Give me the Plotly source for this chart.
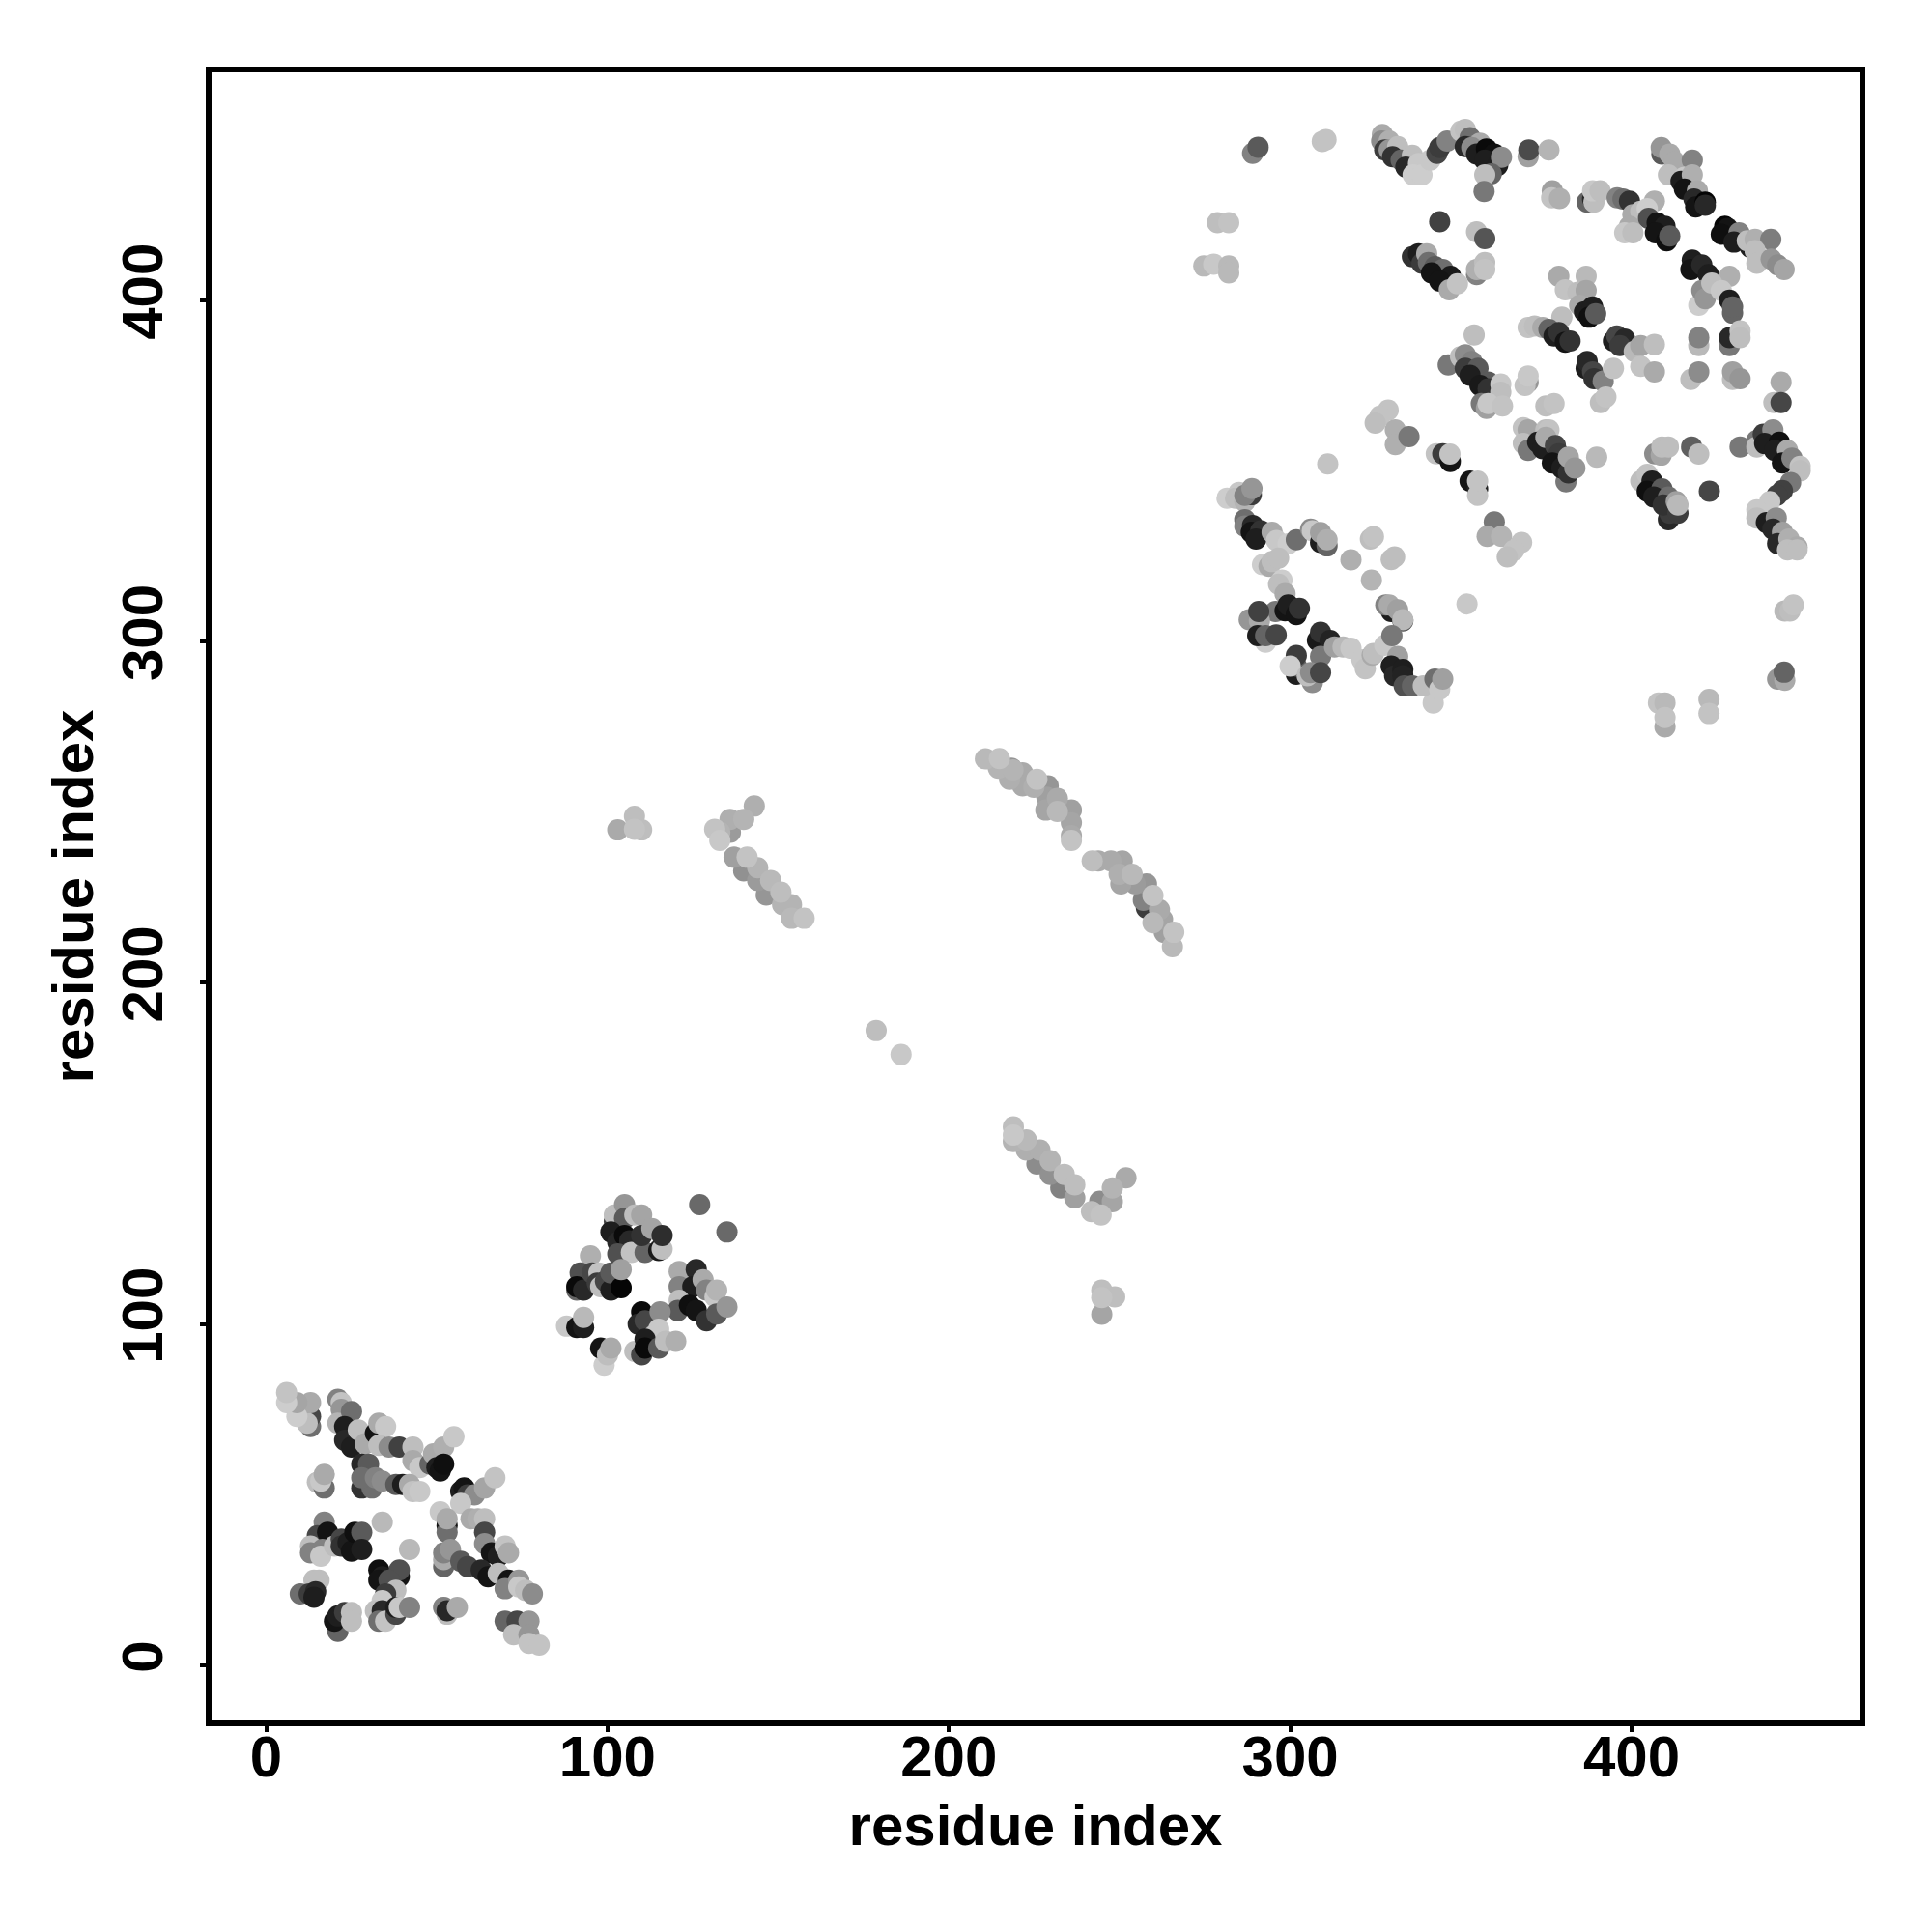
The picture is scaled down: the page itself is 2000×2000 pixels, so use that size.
import plotly.graph_objects as go

# (residue i, residue j, grey level)
domain_a = [
(13,70,110),(13,73,70),(13,77,170),(12,71,190),(9,73,205),(9,77,165),(6,77,205),(6,80,195),
(21,78,130),(22,77,195),(22,75,150),(21,71,180),(25,74.4,110),(23,70,30),(23,66,40),(25,64,30),(27,69,190),(29,65,170),
(32,68,20),(33,71,170),(35,70,200),(33,64.5,190),(36,64,140),(39,64,65),(43,64,190),(43,60,170),(45,58,200),
(28,59,40),(30,59,90),(28,52,50),(31,52,110),(28,55,110),(32,55,130),(34,54,140),(38,53,90),(40,53,30),(42,53,170),(43,51,195),(45,51,200),
(48,59,100),(49,62,170),(52,64,175),(55,67,200),(50,58,30),(51,57,20),(52,59,15),
(57,51,30),(58,52,20),(59,50,60),(61,50,140),(64,52,165),(67,55,195),(57,47.5,200),
(51,45,200),(53,41,20),(53,39,110),(53,43,170),(60,43,170),(62,43,175),(64,43,190),(64,39,70),(64,35.7,140),(66,33,20),(68,32,30),(70,35,195),(71,33,170),
(52,29,100),(52,31,170),(52,33,130),(54,34,150),(57,30.5,90),(59,29,70),(63,28,40),(65,26,20),(68,27,190),(71,25,20),(70,22.5,130),(74,25,150),(74,23,200),(76,22,190),(78,21,140),
(17,42,130),(15,38,70),(18,39,20),(13,35,190),(13,33,130),(16.5,34,130),(16,32,200),(20,35,190),(22,37,70),(22,35,50),(24,36,30),(25,33.5,20),(26,39,15),(28,39,90),(28,34,30),
(34,42,185),(42,34,185),
(33,28,15),(34,26,30),(33,25,20),(39,26,20),(39,28,80),(36,25,80),(38,22,190),(35,21,60),(34,19,200),(32,16,190),(34,16,40),(33,13,110),(35,13,195),(38,15,70),(38,17,30),(39,17,200),(42,17,130),
(14,25,190),(15.5,25,190),(10,21,110),(12.6,21,60),(14.5,21.6,40),(14,20,30),
(21,10,100),(20,13,20),(21,14.5,30),(23,15.5,60),(25,15.5,190),(25,13,190),
(52,17,200),(53,15,190),(52,17,130),(53,16,40),(56,17,170),
(15,53.7,190),(17,52,110),(16,54,200),(17,56,170),
(70,13,100),(73.5,13,70),(77,13,150),(72.5,9,190),(77,9,150),(77,6.5,195),(80,6,195),
]

domain_b = [
(127,135,105),(135,127,105),
(102,130,70),(102,132,190),(105,135,150),(105,131,90),(108,132,190),(110,132,165),(101,127,30),(103,124,40),(105,126,10),(106.5,124.4,40),(103,120.6,80),(107,121,195),(111,121,100),(110,126,50),(113,128,165),(115,121.6,25),(116,122,190),(116,126,45),
(95,120,175),(92,115,80),(91,110,100),(91,111,10),(93,110,40),(95.5,115,70),(97.5,115,195),(97,112,60),(98,111,190),(99.4,112.6,70),(101,110,30),(101,115,90),(104,110.7,5),(104,116,160),
(88,99.4,200),(91,99,20),(93,99,30),(93,102,185),
(99,88,205),(98,93,20),(100,91,190),(101,93,170),
(121,115.4,170),(126,116,40),(121,111,130),(125,111,30),(128,113,170),(129,110,130),(121,107,190),(120.6,104,90),(124,105.5,15),(126,104,20),(129,101,50),(131.5,108,200),(132,110,180),(132,103,90),(135,105,150),
(110,103.6,10),(109,100,40),(111,101,70),(115.4,103.6,140),(115,98.5,200),(113.5,96.6,200),(108,92,190),(110,91,70),(111,95.6,30),(111,93,10),(115,93,90),(117,95,190),(120,95,175),
]

bridges = [
(178.7,186,190),(186,179,200),
(103,244.8,170),(107.9,248.8,190),(107.9,245,195),(110,244.8,190),
(131.4,245,195),(132.9,241.7,200),(132.9,244.1,180),(136,244.1,155),(135.9,247.9,175),(139.9,247.9,180),(143,251.8,175),
(137.1,236.8,160),(140.9,236.8,195),(139.9,232.8,145),(144,233.7,180),(144,230,155),(147.8,230,185),(146.5,225.7,150),(150.8,226.6,190),(151.3,222.9,180),(153.9,222.9,180),(153.9,218.9,185),(157.6,218.9,195),
(210.7,265.6,185),(214.8,265.7,195),(214.5,262.9,180),(217.8,259.6,175),(218.3,262.9,150),(218.8,262.4,180),(221.6,261.5,170),(221.6,257.7,170),(221,259,70),(224.9,257.3,175),(225.8,259.6,195),(229.1,257.7,150),(228.7,254.4,160),(228.4,250.6,165),(231.8,254,170),(231.8,250.2,185),(232.4,250.6,150),(235.9,250.6,160),(235.9,246.9,165),(235.9,243.1,170),(235.9,241.7,195),
(242,235.7,190),(243.8,235.7,170),(247.5,235.7,170),(250.8,235.7,165),(249.9,231.8,175),(250.4,229,165),(253.7,231.8,185),(254.6,229,155),(257.9,229,150),(259.8,225.6,195),(257,224.2,130),(257.9,221.9,60),(261.7,221.4,170),(262.6,218.6,165),(259.8,217.6,185),(263.1,214.8,160),(265.9,214.8,195),(265.5,210.6,185),
(218.9,157.8,190),(218.9,153.5,180),(218.9,155.4,200),(222.7,154,185),(222.7,151,175),(225.8,146.9,140),(226.7,151,175),(229.7,147.9,180),(229.7,143.9,145),(232.8,139.9,130),(233.8,143.9,190),(236.9,137,160),(236.9,140.8,190),
(244.2,136,140),(241.8,133,190),(244.6,132,195),(247.9,135.9,165),(247.9,139.9,180),(251.9,142.9,170),
(244.8,110,190),(244.8,107.8,195),(248.6,108,190),(244.8,102.9,165),
]

domain_c_lower = [
(281.5,342,205),(285,343.7,200),(284,342,190),(286.7,341,180),(288.6,343,60),(286.7,342.8,130),(288.8,344.8,150),
(286.7,335.7,110),(286.7,333.8,130),(289,334,40),(288.6,332,20),(291.4,332.4,50),(290,330,30),(294.7,332,170),(296,329.6,200),(299.4,328.6,205),(301.8,329.8,110),
(306,332.9,140),(306.5,332.4,200),(308.9,329,30),(310.8,328,100),(308.9,331.9,160),(310.8,329.8,175),
(291.9,322.5,205),(293.8,322,170),(294.7,323.4,190),(296.6,324.4,190),(297.6,318,205),(296.6,316.8,190),(298.5,314,170),
(295.7,308.8,120),(298.5,309,20),(299.4,310.7,30),(301.8,307.9,20),(302.7,309.7,50),(288,306.4,150),(291,306,170),(290.8,308.8,65),(292.8,299.8,205),(290.5,301.7,30),(292.8,301.7,100),(295.9,301.9,70),
(308,300.3,25),(308.9,302.7,50),(311.7,300.3,35),(308.9,295.6,120),(313,298.4,160),(315.5,298.4,185),(317.8,298,200),(321,294.6,200),(322,292,195),(324,296,170),(324.4,296.5,190),
(301.8,290.4,30),(301.8,292.8,100),(301.8,295.9,60),(300,292.8,205),(306.5,288,140),(305,290,190),(306,290.9,140),(308.9,290.9,70),
(329.6,308.8,30),(328,310.7,130),(329,310.7,170),(331.5,309.3,160),(333,306,80),(333,306.4,185),(327.7,298.9,200),(329.8,301.7,120),(331.5,295.6,160),(329.6,292.8,30),(330.6,290,40),(333,291.8,30),(333,290,35),(333.4,287,80),(335.8,287,100),
(341.9,282,200),(339,287,190),(342.4,289,110),(343.8,286,200),(344.7,289,160),
(317.8,323.9,175),(323.5,330,190),(324.4,330.7,195),(329.6,324,190),(330.6,324.8,190),(323.8,318,180),(351.8,311,200),
(359.8,335,120),(357.7,330.8,170),(361.9,330.8,180),(367.8,329,195),(365.5,326.7,195),(363.6,324.8,190),(311,352,195),
]

domain_c_upper = [
(274.7,410,185),(277.6,410.5,200),(282,410,185),(282,408,185),(278.7,422.7,190),(282,422.7,195),(289,443,130),(290.6,444.8,90),(309.4,446.5,195),(310.5,447,195),
(327,448.5,170),(326.8,446.6,140),(329,446.6,175),(327.7,444,60),(329,444,150),(331.5,445,190),(330,442,50),(332.5,441,100),(335.8,442.4,190),(333.9,439,40),(337.6,440,200),(336,436.7,205),(338.6,436.7,205),(341,441,200),(343,443,70),(343.8,444.7,60),(346,446.6,130),
(350,449.5,195),(351.3,450,190),(352.7,447.6,110),(351.3,445,40),(355.6,446,170),(353.2,444.7,140),(354.6,442.8,30),(357.5,444.3,10),(359.8,442.8,15),(357,441,30),(360.8,439.5,30),(361.9,441.9,140),(358.9,437,100),(357,436.7,190),(356.8,431.8,120),
(369.7,442,160),(369.9,444,75),(375.8,444,180),
(376.8,432,160),(376.6,430,195),(378.9,429.8,175),
(387,428.7,100),(388.6,429.6,40),(389,428.7,190),(388.6,432,200),(390.8,432,190),
(395.8,430,130),(397.5,429.6,110),(399.4,429,50),(406.7,429,175),(400.4,425,170),(402.7,426,190),(404.6,426.8,205),(399.4,421.6,170),(398,419.7,200),(400.4,419.7,190),
(405,424,80),(407.5,422.6,20),(409.8,421.6,30),(407,419.7,20),(410.3,417.4,15),(411.2,418.8,90),
(408.9,442.8,90),(408.7,444.7,150),(411.2,442.8,170),(412.6,440.5,170),(417.8,441,130),(410.8,436.7,190),(415.5,436,200),(414.5,434.8,30),(417.8,436.7,175),(415.5,432.5,20),(419.3,432,170),(418.3,429.6,40),(418.8,427.3,20),(421.6,428.7,5),(421.6,427.8,40),
(427.3,421.6,5),(428.2,421,20),(426.3,419.3,15),(431.5,419.7,130),(430,417,30),(434.8,415.5,30),(433.9,417.4,190),(436.2,417.8,175),(440.8,417.8,125),(436.2,414.5,190),(436.7,410.8,190),(440.9,412,150),(442.8,410.3,140),(444.7,409,165),
(417.8,411.7,30),(417.4,409,20),(420.6,410.3,40),(422.5,407.5,30),(428.7,407,175),(419.7,398.5,205),(420.6,402.8,140),(421.6,400.4,150),(423.5,405,190),(426.3,402.8,200),(428.7,400,30),(429.6,396.2,100),(429.6,398,100),
(378.7,407,170),(386.7,407,185),(380.6,403,195),(384.3,402.3,190),(386.7,402.8,165),(379.6,395,190),(384.8,398.5,170),(386.2,396.6,30),(388.6,398,30),(387.6,395,15),(389.5,396,90),
(369.7,392,195),(371.6,392.4,190),(374,392,170),(375.8,391.4,100),(377.3,389.5,30),(378.7,390.5,50),(380.6,387.7,20),(382,388,50),
(394.7,388,30),(395.7,389.5,70),(398,388.6,40),(396.6,386.7,60),(400.8,385,185),(402.7,386.7,165),(406.7,387,190),(402.7,380.6,195),(406.7,379,170),
(386.7,380,30),(387,382,40),(388.6,379,70),(389,377,50),(391.7,376.3,130),(394.7,380,195),(390.9,370,190),(392.5,371.6,195),
(419.7,386.7,185),(419.7,389,130),(428.7,386.7,120),(428.7,389,40),(431.8,391,195),(431.8,389,190),
(417.4,376.8,190),(419.7,379,140),(429.6,376.8,190),(429.6,379,160),(431.8,377,150),
(443.8,376,170),(441.7,370,190),(443.8,370,70),(353.9,389.8,190),
(346.3,381,120),(349.9,383.4,190),(351.3,384,140),(353.2,382,130),(351.3,380,60),(355,380,90),(352.7,378,30),(358,376,90),(355.6,375,25),(358,374,50),(361.7,375.4,200),(361.7,373,190),(356,369.7,120),(357.5,368.3,160),(358,369.7,200),(362.2,369,195),
(369.7,376,150),(368.8,375,195),(369.7,377.8,200),(374.9,369,190),(377.3,369.7,195),
(343.8,423,65),(354.6,420,190),(357,418,85),
(354.6,407.5,130),(354.6,409,175),(357,411,190),(357,409,195),
(335.8,412.7,50),(337.6,413.6,30),(338.6,410.8,60),(340,413.6,170),(340.5,411,110),(342.4,409.8,90),(344.7,409,110),(341.4,408,20),(347,407,25),(343.8,405.6,20),(346.6,403,170),(349,404.8,195),
]

domain_c_right = [
(328.7,367.8,195),(326.3,366,195),(324.9,364,190),(330.8,362,175),(330.8,357.7,175),(334.8,360,120),
(342.8,355,195),(344.7,355,60),(346.9,352.7,20),(346.8,354.9,195),
(352.7,347,20),(354.9,344.7,35),(354.9,342.8,195),(354.9,347,195),
(368.3,362.6,195),(369.7,362,165),(368.3,358,190),(369.7,356,120),(374.9,362,190),(375.8,362,195),(372.5,358.4,30),(374,356.5,30),(374.9,359.8,170),(377.7,357.4,70),(378.7,355,60),(376.8,352.3,20),(380.8,346.8,120),(379.6,350.8,30),(381.5,349.4,50),(381.5,354,165),(383.4,350.8,150),(389.8,354,185),
(406.8,355,140),(408.7,354.6,165),(408.9,357,190),(410.8,357,190),(417.6,357,95),(419.7,354.9,190),(422.8,344,70),(431.8,357,120),
(402.7,347,190),(404.6,349,195),(406,347,30),(404.6,344,15),(408.9,344.7,90),(406.5,342.3,30),(410.8,342.3,110),(410.8,335.7,40),(411.2,337.6,60),(409.3,340,50),(413.6,337.6,60),(413.1,341,160),(413.6,340,185),
(436.7,358.9,120),(436.7,357,190),(438.6,360.7,60),(441.4,362,140),(439,358,30),(443.3,358.4,15),(441.9,356,30),(445.7,356,170),(444.2,352.3,20),(447,353.7,130),(449.4,351.3,195),(449.4,350,190),(446.6,346.6,120),(444.2,344.2,65),(442.6,342.8,65),(440.5,341,200),
(436.7,338.6,200),(436.7,336.2,190),(439.5,334.8,30),(442.4,336.2,140),(441.4,332.9,40),(444.2,332,160),(442.8,328.7,40),(446.1,330,175),(448.5,327.7,170),(445.7,326.8,190),(448.5,326.8,190),
(444.9,308.9,185),(446.4,308.9,190),(447.4,310.7,195),
(442.8,289,150),(444.9,288.6,170),(444.7,291,100),
(407.9,282,195),(409.8,282,185),(409.8,275,170),(409.8,277.7,195),(422.7,283,185),(422.7,278.9,195),
]

x_tick_values = [0, 100, 200, 300, 400]
y_tick_values = [0, 100, 200, 300, 400]
x_label = "residue index"
y_label = "residue index"

contacts = domain_a + domain_b + sorted(bridges, key=lambda c: c[2]) + domain_c_lower + domain_c_upper + domain_c_right
xs = [c[0] for c in contacts]
ys = [c[1] for c in contacts]
colors = [f"rgb({c[2]},{c[2]},{c[2]})" for c in contacts]

fig = go.Figure(go.Scatter(x=xs, y=ys, mode="markers",
                           marker=dict(size=22, color=colors, line=dict(width=0)),
                           showlegend=False, hoverinfo="skip"))
tick_font = dict(family="Liberation Sans", size=60, color="black")
title_font = dict(family="Liberation Sans", size=60, color="black")
axis = dict(showgrid=False, zeroline=False, showline=True, mirror=True, linecolor="black", linewidth=6,
            ticks="outside", ticklen=6, tickwidth=4, tickcolor="black",
            tickfont=tick_font, title_font=title_font)
fig.update_layout(width=2000, height=2000, autosize=False, paper_bgcolor="white", plot_bgcolor="white",
                  margin=dict(l=219, r=75, t=75, b=219), font=tick_font)
fig.update_xaxes(axis, range=[-16.0, 466.8], tickvals=x_tick_values, ticktext=[f"<b>{v}</b>" for v in x_tick_values],
                 ticklabelstandoff=-26, title_text=f"<b>{x_label}</b>", title_standoff=19)
fig.update_yaxes(axis, range=[-16.1, 466.7], tickvals=y_tick_values, ticktext=[f"<b>{v}</b>" for v in y_tick_values], tickangle=-90,
                 ticklabelstandoff=15, title_text=f"<b>{y_label}</b>", title_standoff=0)
fig.write_html("out.html", config=dict(displayModeBar=False), post_script="document.body.style.margin='0';")
